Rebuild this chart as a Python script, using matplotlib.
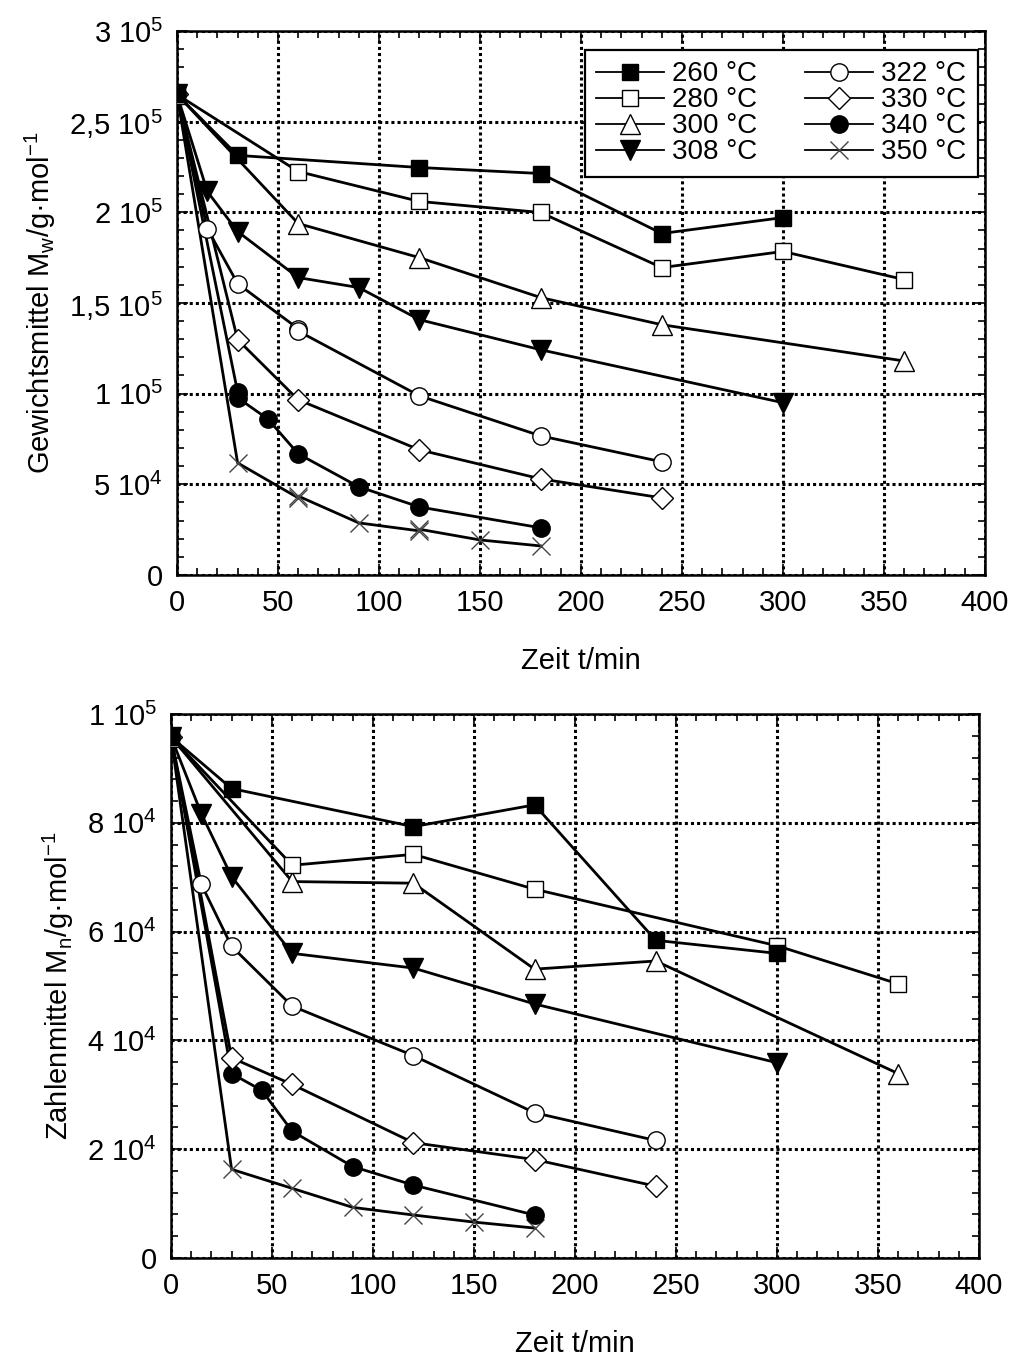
import matplotlib
matplotlib.use("Agg")
import matplotlib.pyplot as plt
from matplotlib.ticker import MultipleLocator, FuncFormatter
import math

plt.rcParams['font.family'] = ['Liberation Sans', 'DejaVu Sans']
plt.rcParams['mathtext.fontset'] = 'custom'
plt.rcParams['mathtext.rm'] = 'Liberation Sans'
plt.rcParams['mathtext.it'] = 'Liberation Sans:italic'
plt.rcParams['mathtext.bf'] = 'Liberation Sans:bold'

labels = ["260 °C", "280 °C", "300 °C", "308 °C", "322 °C", "330 °C", "340 °C", "350 °C"]
markers = ["s", "s", "^", "v", "o", "D", "o", "x"]
filled = [True, False, False, True, False, False, True, None]

# Weight average Mw (top)
mw0 = 265000
mw_t = {
    "260 °C": [0, 30, 120, 180, 240, 300],
    "280 °C": [0, 60, 120, 180, 240, 300, 360],
    "300 °C": [0, 60, 120, 180, 240, 360],
    "308 °C": [0, 15, 30, 60, 90, 120, 180, 300],
    "322 °C": [0, 15, 30, 60, 60, 120, 180, 240],
    "330 °C": [0, 30, 60, 120, 180, 240],
    "340 °C": [0, 30, 30, 45, 60, 90, 120, 180],
    "350 °C": [0, 30, 60, 60, 90, 120, 120, 150, 180],
}
mw_v = {
    "260 °C": [mw0, 231400, 224700, 221400, 188300, 197100],
    "280 °C": [mw0, 222500, 206000, 199900, 169500, 178400, 162900],
    "300 °C": [mw0, 193800, 175000, 153000, 138000, 118000],
    "308 °C": [mw0, 211500, 189400, 164000, 158500, 140800, 124200, 95000],
    "322 °C": [mw0, 191000, 160700, 135800, 134500, 98800, 76700, 62400],
    "330 °C": [mw0, 129800, 96600, 69000, 53000, 42500],
    "340 °C": [mw0, 101000, 97700, 86000, 66800, 48600, 37500, 26000],
    "350 °C": [mw0, 61800, 42500, 43500, 28700, 24300, 25200, 19300, 16000],
}

# Number average Mn (bottom)
mn0 = 95800
mn_t = {
    "260 °C": [0, 30, 120, 180, 240, 300],
    "280 °C": [0, 60, 120, 180, 300, 360],
    "300 °C": [0, 60, 120, 180, 240, 360],
    "308 °C": [0, 15, 30, 60, 120, 180, 300],
    "322 °C": [0, 15, 30, 60, 120, 180, 240],
    "330 °C": [0, 30, 60, 120, 180, 240],
    "340 °C": [0, 30, 45, 60, 90, 120, 180],
    "350 °C": [0, 30, 60, 90, 120, 150, 180],
}
mn_v = {
    "260 °C": [mn0, 86300, 79300, 83300, 58400, 56000],
    "280 °C": [mn0, 72200, 74200, 67800, 57400, 50400],
    "300 °C": [mn0, 69200, 68900, 53100, 54600, 33900],
    "308 °C": [mn0, 81700, 70100, 56000, 53300, 46700, 35900],
    "322 °C": [mn0, 68700, 57300, 46300, 37200, 26700, 21600],
    "330 °C": [mn0, 36800, 31900, 21200, 18100, 13200],
    "340 °C": [mn0, 33900, 30800, 23300, 16800, 13400, 7900],
    "350 °C": [mn0, 16300, 12800, 9300, 7900, 6600, 5500],
}

xticks = [0, 50, 100, 150, 200, 250, 300, 350, 400]

fig = plt.figure(figsize=(10.19, 13.65), dpi=100)
ax1 = fig.add_axes([0.1737, 0.5788, 0.7929, 0.3985])
ax2 = fig.add_axes([0.1678, 0.0784, 0.7929, 0.3985])

FS = 21


def style_marker(i):
    m = markers[i]
    kw = dict(marker=m, color="black", lw=2.0, markeredgecolor="black",
              markeredgewidth=1.0)
    if m == "x":
        kw.update(markersize=13, markeredgecolor="#444444", markeredgewidth=1.0)
    else:
        kw.update(markerfacecolor="black" if filled[i] else "white")
        if m == "D":
            kw.update(markersize=11)
        elif m in ("^", "v"):
            kw.update(markersize=14)
        elif m == "o":
            kw.update(markersize=12.5)
        else:
            kw.update(markersize=12)
    return kw


def fmt(v, pos):
    if v == 0:
        return "0"
    e = int(math.floor(math.log10(abs(v)) + 1e-9))
    mant = v / 10 ** e
    if abs(mant - round(mant)) < 1e-6:
        ms = "%d" % round(mant)
    else:
        ms = ("%g" % mant).replace(".", ",")
    return ms + r" 10$^{%d}$" % e


def setup(ax, ymax, ymajor, yminor, ylabel):
    ax.set_xlim(0, 400)
    ax.set_ylim(0, ymax)
    ax.set_xticks(xticks)
    ax.xaxis.set_minor_locator(MultipleLocator(10))
    ax.yaxis.set_major_locator(MultipleLocator(ymajor))
    ax.yaxis.set_minor_locator(MultipleLocator(yminor))
    ax.yaxis.set_major_formatter(FuncFormatter(fmt))
    ax.tick_params(which="both", direction="in", top=True, right=True,
                   labelsize=FS, width=1.2, pad=10)
    ax.tick_params(which="major", length=8)
    ax.tick_params(which="minor", length=5)
    ax.grid(True, which="major", color="black", linestyle=(0, (1.0, 1.0)), lw=2.2)
    for s in ax.spines.values():
        s.set_linewidth(1.8)
    ax.set_xlabel("Zeit t/min", fontsize=FS, labelpad=22)
    ax.set_ylabel(ylabel, fontsize=FS, labelpad=8)


handles = []
for i, lab in enumerate(labels):
    kw = style_marker(i)
    h, = ax1.plot(mw_t[lab], mw_v[lab], label=lab, zorder=3 + (8 - i) * 0.01, **kw)
    handles.append(h)
    ax2.plot(mn_t[lab], mn_v[lab], zorder=3 + (8 - i) * 0.01, **kw)

ax1.errorbar([0], [mw0], yerr=[4000], color="black", capsize=4, lw=1.2, zorder=2)
ax2.errorbar([0], [mn0], yerr=[1200], color="black", capsize=4, lw=1.2, zorder=2)

setup(ax1, 300000, 50000, 10000, r"Gewichtsmittel M$_{\mathregular{w}}$/g·mol$^{-1}$")
setup(ax2, 100000, 20000, 4000, r"Zahlenmittel M$_{\mathregular{n}}$/g·mol$^{-1}$")

leg = ax1.legend(handles=handles, ncol=2, loc="upper right", fontsize=20,
                 frameon=True, fancybox=False, edgecolor="black", framealpha=1,
                 handlelength=2.45, handletextpad=0.3, columnspacing=1.7,
                 labelspacing=0.0, borderpad=0.4, numpoints=1,
                 bbox_to_anchor=(1.008, 0.99))
leg.get_frame().set_linewidth(1.6)
for lh in leg.get_lines():
    lh.set_linewidth(1.3)

fig.savefig("out.png", dpi=100)
